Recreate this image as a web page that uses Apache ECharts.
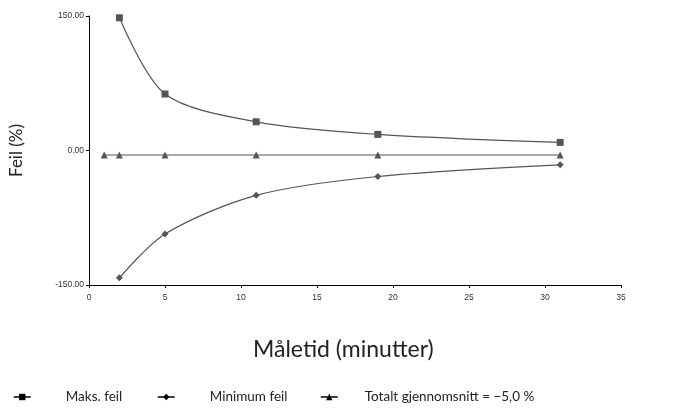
<!DOCTYPE html>
<html>
<head>
<meta charset="utf-8">
<script src="https://cdn.jsdelivr.net/npm/echarts@6/dist/echarts.min.js"></script>
<style>
  html, body { margin: 0; padding: 0; background: #fff; }
  #chart { width: 696px; height: 412px; }
</style>
</head>
<body>
<div id="chart"></div>
<script>
// Measurement time in minutes and the error values for each series
const maxMinutes = [2, 5, 11, 19, 31];
const maxError = [148, 63, 32, 18, 9];
const minMinutes = [2, 5, 11, 19, 31];
const minError = [-142, -93, -50, -29, -16];
const avgMinutes = [1, 2, 5, 11, 19, 31];
const avgError = [-5, -5, -5, -5, -5, -5];

const seriesNames = ['Maks. feil', 'Minimum feil', 'Totalt gjennomsnitt = \u22125,0 %'];
const xTitle = 'Måletid (minutter)';
const yTitle = 'Feil (%)';

const pairs = (xs, ys) => xs.map((x, i) => [x, ys[i]]);
const ink = '#555555';

const chart = echarts.init(document.getElementById('chart'));

const legendBase = {
  orient: 'horizontal',
  top: 385,
  itemWidth: 17,
  itemHeight: 8,
  lineStyle: { color: '#000', width: 1.5 },
  itemStyle: { color: '#000' },
  textStyle: { fontFamily: 'Lato', fontSize: 13.5, color: '#222', padding: [0, 0, 0, 30] }
};

chart.setOption({
  animation: false,
  textStyle: { fontFamily: 'Liberation Sans' },
  title: {
    text: xTitle,
    left: 248,
    top: 333,
    textStyle: { fontFamily: 'Lato', fontSize: 23, fontWeight: 'normal', color: '#222' }
  },
  grid: { left: 87, right: 75, top: 16, bottom: 127 },
  legend: [
    Object.assign({}, legendBase, { left: 8, data: [seriesNames[0]] }),
    Object.assign({}, legendBase, { left: 152, data: [seriesNames[1]] }),
    Object.assign({}, legendBase, {
      left: 315, data: [seriesNames[2]],
      textStyle: Object.assign({}, legendBase.textStyle, { padding: [0, 0, 0, 22] })
    })
  ],
  xAxis: {
    type: 'value',
    min: 0, max: 35, interval: 5,
    axisLine: { show: true, onZero: false, lineStyle: { color: '#000', width: 1 } },
    axisTick: { show: true, length: 3, lineStyle: { color: '#000' } },
    axisLabel: { fontSize: 8.5, color: '#333', margin: 8 },
    splitLine: { show: false }
  },
  yAxis: {
    type: 'value',
    min: -150, max: 150, interval: 150,
    name: yTitle,
    nameLocation: 'middle',
    nameGap: 64,
    nameRotate: 90,
    nameTextStyle: { fontFamily: 'Lato', fontSize: 17, color: '#222' },
    axisLine: { show: true, onZero: false, lineStyle: { color: '#000', width: 1 } },
    axisTick: { show: true, length: 3, lineStyle: { color: '#000' } },
    axisLabel: {
      fontSize: 8.5, color: '#333', margin: 5,
      formatter: v => v.toFixed(2)
    },
    splitLine: { show: false }
  },
  series: [
    {
      name: seriesNames[0], type: 'line', smooth: 0.3,
      data: pairs(maxMinutes, maxError),
      symbol: 'rect', symbolSize: 7,
      itemStyle: { color: ink },
      lineStyle: { color: ink, width: 1.2 }
    },
    {
      name: seriesNames[1], type: 'line', smooth: 0.3,
      data: pairs(minMinutes, minError),
      symbol: 'diamond', symbolSize: 7,
      itemStyle: { color: ink },
      lineStyle: { color: ink, width: 1.2 }
    },
    {
      name: seriesNames[2], type: 'line',
      data: pairs(avgMinutes, avgError),
      symbol: 'triangle', symbolSize: 7,
      itemStyle: { color: ink },
      lineStyle: { color: ink, width: 1.2 }
    }
  ]
});
</script>
</body>
</html>
